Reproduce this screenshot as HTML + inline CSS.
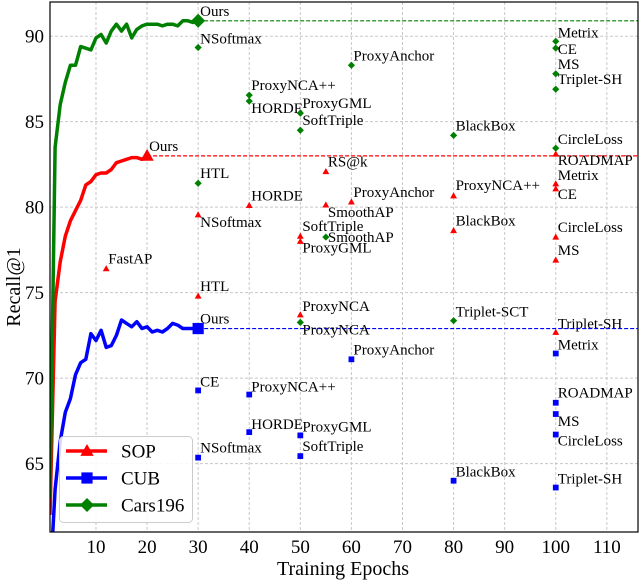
<!DOCTYPE html>
<html><head><meta charset="utf-8">
<style>
html,body{margin:0;padding:0;background:#fff;}
svg{display:block;font-family:"Liberation Serif",serif;}
</style></head>
<body>
<svg id="chart" width="640" height="581" viewBox="0 0 640 581" xmlns="http://www.w3.org/2000/svg">
<g id="grid"></g>
<g id="plot"></g>
<g id="axes"></g>
<g id="legend"></g>
</svg>
<script>
// ---- data ----
const xTicks = [10,20,30,40,50,60,70,80,90,100,110];
const yTicks = [65,70,75,80,85,90];
const sopCurve = [62,74.5,76.8,78.3,79.2,79.8,80.4,81.3,81.5,81.9,82.0,82.0,82.2,82.6,82.7,82.8,82.9,82.9,82.8,83.0];
const cubCurve = [58,63.5,66.3,68.0,68.8,70.2,70.9,71.1,72.6,72.2,72.8,71.8,71.9,72.5,73.4,73.2,73.0,73.3,72.9,73.0,72.7,72.8,72.7,72.9,73.2,73.1,72.9,72.9,72.9,72.9];
const carsCurve = [63,83.5,86.0,87.3,88.3,88.3,89.4,89.3,89.2,89.9,90.1,89.6,90.3,90.7,90.3,90.7,89.9,90.4,90.6,90.7,90.7,90.7,90.6,90.7,90.7,90.6,90.9,90.9,90.8,90.9];
// scatter: [name, epoch, recall, label baseline offset]
const sopPoints = [
 ["FastAP",12,76.4,-5],["HTL",30,74.8,-5],["NSoftmax",30,79.55,12],["HORDE",40,80.1,-5],
 ["RS@k",55,82.08,-5],["SmoothAP",55,80.13,12],["ProxyAnchor",60,80.3,-5],["SoftTriple",50,78.3,-5],
 ["ProxyGML",50,78.0,11],["ProxyNCA",50,73.7,-4],["ProxyNCA++",80,80.66,-6],["BlackBox",80,78.63,-5],
 ["ROADMAP",100,83.1,11],["Metrix",100,81.36,-4],["CE",100,81.07,10],["CircleLoss",100,78.25,-5],
 ["MS",100,76.9,-5],["Triplet-SH",100,72.68,-4]];
const cubPoints = [
 ["CE",30,69.28,-4],["ProxyNCA++",40,69.04,-3],["HORDE",40,66.84,-3],["ProxyGML",50,66.65,-4],
 ["NSoftmax",30,65.35,-5],["SoftTriple",50,65.44,-5],["ProxyAnchor",60,71.1,-5],["BlackBox",80,64.0,-4],
 ["Triplet-SH",100,63.6,-4],["Metrix",100,71.44,-4],["ROADMAP",100,68.56,-5],["MS",100,67.9,12],["CircleLoss",100,66.7,11]];
const carsPoints = [
 ["NSoftmax",30,89.34,-4],["ProxyAnchor",60,88.3,-5],["ProxyNCA++",40,86.55,-5],["HORDE",40,86.2,12],
 ["ProxyGML",50,85.5,-5],["SoftTriple",50,84.5,-5],["HTL",30,81.4,-5],["SmoothAP",55,78.25,5],
 ["ProxyNCA",50,73.26,12],["Triplet-SCT",80,73.36,-4],["BlackBox",80,84.2,-5],["Metrix",100,89.7,-4],
 ["CE",100,89.3,6],["MS",100,87.8,-5],["Triplet-SH",100,86.9,-5],["CircleLoss",100,83.45,-4]];
const oursEpoch = [20,30,30];
const oursValue = [83.0,72.9,90.9];

// ---- scales ----
const L=50,R=638,T=2,B=532, XMIN=1.0, XMAX=116.1, YMIN=61.0, YMAX=92.0;
const xs = v => L + (v-XMIN)/(XMAX-XMIN)*(R-L);
const ys = v => B - (v-YMIN)/(YMAX-YMIN)*(B-T);
const NS="http://www.w3.org/2000/svg";
function mk(tag, attrs, parent){const e=document.createElementNS(NS,tag);for(const k in attrs)e.setAttribute(k,attrs[k]);parent.appendChild(e);return e;}
const grid=document.getElementById('grid'),plot=document.getElementById('plot'),axes=document.getElementById('axes'),legend=document.getElementById('legend');

// clip
const defs=mk('defs',{},document.getElementById('chart'));
const cp=mk('clipPath',{id:'clip'},defs);mk('rect',{x:L,y:T,width:R-L,height:B-T},cp);
plot.setAttribute('clip-path','url(#clip)');

// grid + ticks
xTicks.forEach(t=>{
  const g=mk('line',{x1:xs(t),x2:xs(t),y1:T,y2:B,stroke:'#c8c8c8','stroke-width':1,'stroke-dasharray':'3,2'},grid);
  
  const tx=mk('text',{x:xs(t),y:553,'font-size':19,'text-anchor':'middle',fill:'#000'},axes);tx.textContent=t;
  
});
yTicks.forEach(t=>{
  const g=mk('line',{x1:L,x2:R,y1:ys(t),y2:ys(t),stroke:'#c8c8c8','stroke-width':1,'stroke-dasharray':'3,2'},grid);
  
  const tx=mk('text',{x:44,y:ys(t)+6.5,'font-size':19,'text-anchor':'end',fill:'#000'},axes);tx.textContent=t;
  
});
const frame=mk('rect',{x:L,y:T,width:R-L,height:B-T,fill:'none',stroke:'#000','stroke-width':1.2},axes);

const xt=mk('text',{x:343,y:575,'font-size':20,'text-anchor':'middle'},axes);xt.textContent='Training Epochs';

const yt=mk('text',{x:0,y:0,'font-size':20,'text-anchor':'middle',transform:'translate(20,287) rotate(-90)'},axes);yt.textContent='Recall@1';


// markers
function marker(kind,x,y,s,color,parent){
  if(kind==='tri') return mk('polygon',{points:`${x},${y-s} ${x-s*0.95},${y+s*0.7} ${x+s*0.95},${y+s*0.7}`,fill:color},parent);
  if(kind==='sq') return mk('rect',{x:x-s*0.8,y:y-s*0.8,width:s*1.6,height:s*1.6,fill:color},parent);
  return mk('polygon',{points:`${x},${y-s} ${x+s},${y} ${x},${y+s} ${x-s},${y}`,fill:color},parent);
}
const series=[
  {name:'sop',curve:sopCurve,pts:sopPoints,color:'#ff0000',kind:'tri'},
  {name:'cub',curve:cubCurve,pts:cubPoints,color:'#0000ff',kind:'sq'},
  {name:'cars',curve:carsCurve,pts:carsPoints,color:'#008000',kind:'dia'}];
series.forEach((s,i)=>{
  // dashed ref
  const dl=mk('line',{x1:xs(oursEpoch[i]),x2:R,y1:ys(oursValue[i]),y2:ys(oursValue[i]),stroke:s.color,'stroke-width':1.2,'stroke-dasharray':'4,2'},plot);
  
  const d=s.curve.map((v,k)=>(k?'L':'M')+xs(k+1).toFixed(1)+','+ys(v).toFixed(1)).join('');
  const p=mk('path',{d:d,fill:'none',stroke:s.color,'stroke-width':3.5,'stroke-linejoin':'round'},plot);
  
  s.pts.forEach(pt=>{
    const m=marker(s.kind,xs(pt[1]),ys(pt[2]),3.6,s.color,plot);
    
    const t=mk('text',{x:xs(pt[1])+2,y:ys(pt[2])+pt[3],'font-size':15,fill:'#000'},plot);t.textContent=pt[0];
    
  });
  const om=marker(s.kind,xs(oursEpoch[i]),ys(oursValue[i]),7,s.color,plot);
  
  const ot=mk('text',{x:xs(oursEpoch[i])+2,y:ys(oursValue[i])-5,'font-size':15},plot);ot.textContent='Ours';
  
});

// legend
const lb=mk('rect',{x:59.5,y:436.5,width:133,height:86,rx:4,fill:'#fff','fill-opacity':0.85,stroke:'#ccc','stroke-width':1},legend);

const legNames=['SOP','CUB','Cars196'];
series.forEach((s,i)=>{
  const y=451+i*27;
  const g=mk('g',{},legend);
  
  mk('line',{x1:66,x2:107,y1:y,y2:y,stroke:s.color,'stroke-width':3.5},g);
  marker(s.kind,87,y,7,s.color,g);
  const t=mk('text',{x:121,y:y+6.5,'font-size':19},g);t.textContent=legNames[i];
});
</script>
</body></html>
